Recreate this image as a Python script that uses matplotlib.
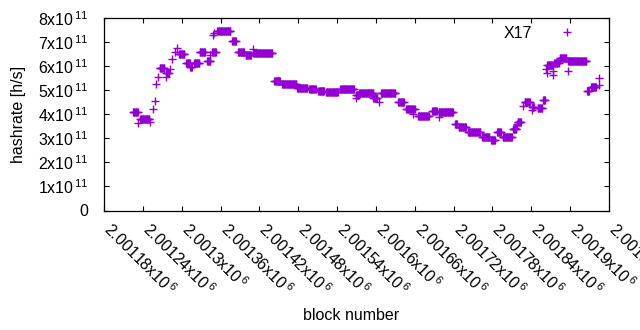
import numpy as np
import matplotlib
matplotlib.use("Agg")
import matplotlib.pyplot as plt
import matplotlib.transforms as mtransforms

plt.rcParams['font.family'] = ['Liberation Sans', 'DejaVu Sans']
plt.rcParams['mathtext.fontset'] = 'custom'
plt.rcParams['mathtext.rm'] = 'Liberation Sans'
plt.rcParams['mathtext.it'] = 'Liberation Sans'
plt.rcParams['mathtext.bf'] = 'Liberation Sans'

# Runs of consecutive blocks with a constant hashrate (units of 1e11 h/s)
run_start = [2001225, 2001236, 2001266, 2001276, 2001296, 2001307, 2001313, 2001319,
             2001328, 2001339, 2001347, 2001355, 2001378, 2001387, 2001399, 2001410,
             2001443, 2001455, 2001478, 2001497, 2001511, 2001523, 2001545, 2001569,
             2001574, 2001596, 2001608, 2001634, 2001647, 2001665, 2001687, 2001697,
             2001722, 2001728, 2001742, 2001764, 2001778, 2001787, 2001796, 2001812,
             2001819, 2001830, 2001841, 2001850, 2001858, 2001865, 2001875, 2001884,
             2001897, 2001926, 2001932]
run_end = [2001232, 2001250, 2001273, 2001280, 2001304, 2001313, 2001316, 2001327,
           2001336, 2001344, 2001353, 2001375, 2001384, 2001396, 2001407, 2001440,
           2001452, 2001477, 2001494, 2001507, 2001520, 2001541, 2001566, 2001574,
           2001596, 2001602, 2001630, 2001643, 2001660, 2001682, 2001694, 2001719,
           2001725, 2001739, 2001761, 2001775, 2001784, 2001793, 2001810, 2001817,
           2001824, 2001838, 2001844, 2001857, 2001861, 2001873, 2001882, 2001894,
           2001925, 2001929, 2001940]
run_value = [4.08, 3.82, 5.94, 5.72, 6.49, 6.14, 5.95, 6.14,
             6.60, 6.23, 6.59, 7.48, 7.06, 6.58, 6.45, 6.53,
             5.40, 5.25, 5.08, 5.04, 4.98, 4.94, 5.04, 4.80,
             4.90, 4.66, 4.90, 4.52, 4.20, 3.93, 4.15, 4.08,
             3.58, 3.48, 3.25, 3.04, 2.93, 3.25, 3.07, 3.39,
             3.68, 4.52, 4.30, 4.25, 4.58, 6.03, 6.15, 6.33,
             6.20, 4.98, 5.15]

# Isolated blocks
pt_block = [2001233, 2001251, 2001255, 2001258, 2001260, 2001264, 2001276, 2001282,
            2001285, 2001289, 2001293, 2001344, 2001349, 2001350, 2001410, 2001569,
            2001604, 2001658, 2001697, 2001815, 2001818, 2001827, 2001841, 2001863,
            2001865, 2001874, 2001874, 2001896, 2001944, 2001944]
pt_value = [3.65, 3.69, 4.20, 4.55, 5.24, 5.56, 5.56, 5.88,
            6.28, 6.57, 6.74, 6.46, 7.29, 7.39, 6.70, 4.66,
            4.50, 4.00, 3.88, 3.42, 3.58, 4.34, 4.18, 5.90,
            5.70, 5.63, 5.81, 5.81, 5.20, 5.49]

x_ticks = [2001180 + 60 * i for i in range(14)]
x_tick_labels = ["2.00118", "2.00124", "2.0013", "2.00136", "2.00142", "2.00148",
                 "2.00154", "2.0016", "2.00166", "2.00172", "2.00178", "2.00184",
                 "2.0019", "2.00196"]
y_ticks = [0, 1, 2, 3, 4, 5, 6, 7, 8]

blocks = []
values = []
for s, e, v in zip(run_start, run_end, run_value):
    for b in range(s, e + 1):
        blocks.append(b)
        values.append(v * 1e11)
for b, v in zip(pt_block, pt_value):
    blocks.append(b)
    values.append(v * 1e11)

FS = 11.5
fig = plt.figure(figsize=(6.4, 3.3), dpi=100)
ax = fig.add_axes([104 / 640, 1 - 210.5 / 330, 505 / 640, 192.5 / 330])
color = '#9400D3'
ax.plot(blocks, values, linestyle='none', marker='+', markersize=6,
        markeredgewidth=1.0, color=color, label='X17')

ax.set_xlim(2001180, 2001960)
ax.set_ylim(0, 8e11)
ax.set_xticks(x_ticks)
ax.set_xticklabels([l + r"x10$^{\,6}$" for l in x_tick_labels], rotation=-45,
                   ha='left', va='center_baseline', rotation_mode='anchor', fontsize=FS)
ax.set_yticks([v * 1e11 for v in y_ticks])
ax.set_yticklabels(["0" if v == 0 else f"{v}x10" + r"$^{\,11}$" for v in y_ticks],
                   fontsize=FS)
ax.tick_params(direction='in', length=3.5, width=0.8, top=True, right=True,
               labeltop=False, labelright=False)
ax.tick_params(axis='y', pad=11)
ax.tick_params(axis='x', pad=11)
for sp in ax.spines.values():
    sp.set_linewidth(0.9)

shift = mtransforms.ScaledTranslation(4 / 100, 1 / 100, fig.dpi_scale_trans)
for lab in ax.get_xticklabels():
    lab.set_transform(lab.get_transform() + shift)

ax.set_xlabel("block number", fontsize=FS)
ax.xaxis.set_label_coords(0.49, -0.505)
ax.set_ylabel("hashrate [h/s]", fontsize=FS)
ax.yaxis.set_label_coords(-0.155, 0.5)

ax.legend(loc='upper right', bbox_to_anchor=(0.933, 0.96), frameon=False,
          markerfirst=False, numpoints=1, handlelength=1.0, handletextpad=1.7,
          borderaxespad=0.0, borderpad=0.0, fontsize=FS)

fig.savefig("out.png", dpi=100)
